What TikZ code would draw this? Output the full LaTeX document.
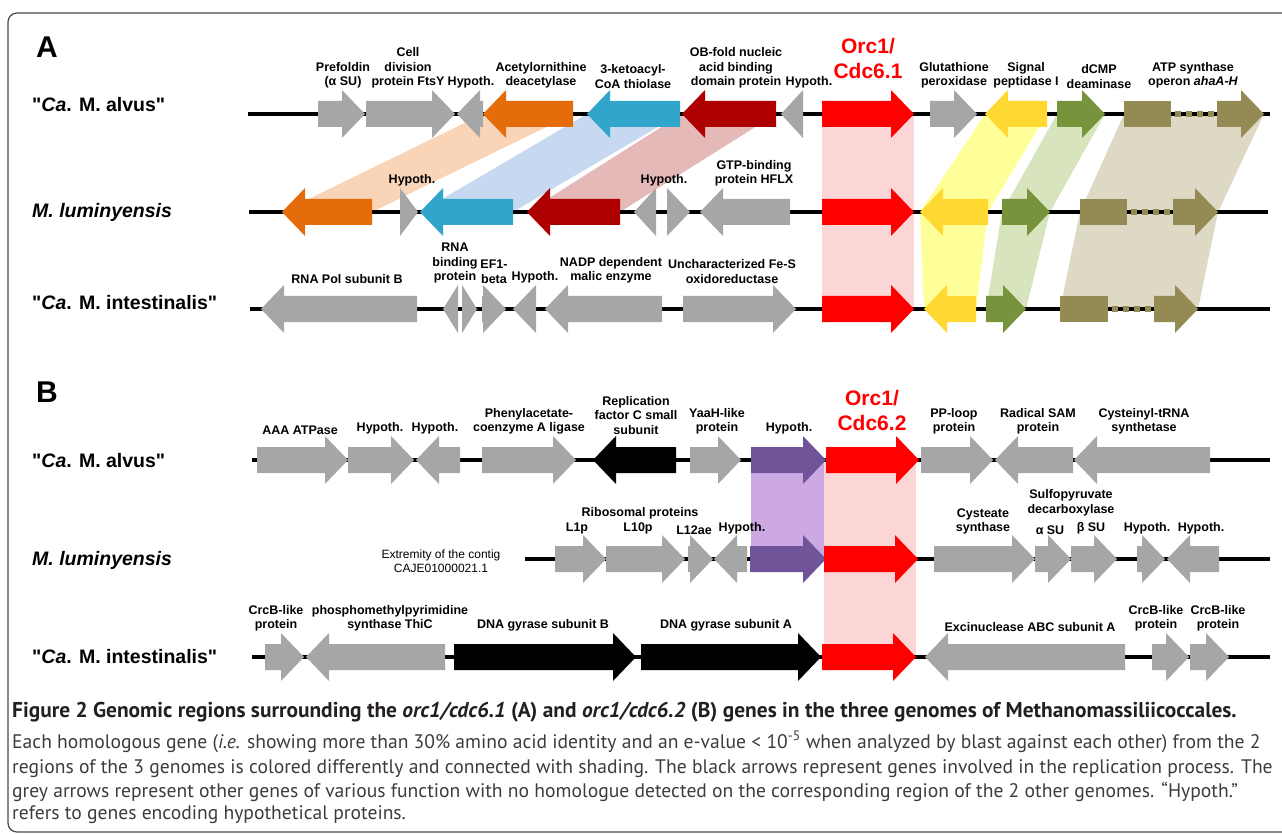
\documentclass[tikz,border=0pt]{standalone}
\usepackage{fontspec}
\setmainfont{Liberation Sans}
\newfontfamily\capfont{PT Sans}
\usepackage{xcolor}
% gene colours
\definecolor{geneGrey}{HTML}{A6A6A6}
\definecolor{geneOrange}{HTML}{E46C0A}
\definecolor{geneBlue}{HTML}{31A5CA}
\definecolor{geneDkRed}{HTML}{AE0000}
\definecolor{geneRed}{HTML}{FF0000}
\definecolor{geneYellow}{HTML}{FFD932}
\definecolor{geneGreen}{HTML}{77933C}
\definecolor{geneOlive}{HTML}{948A54}
\definecolor{genePurple}{HTML}{6F5499}
% shading colours
\definecolor{shOrange}{HTML}{FAD4B6}
\definecolor{shBlue}{HTML}{C6D9F0}
\definecolor{shDkRed}{HTML}{E5B9B7}
\definecolor{shRed}{HTML}{FCD5D6}
\definecolor{shYellow}{HTML}{FFFF99}
\definecolor{shGreen}{HTML}{D7E4BD}
\definecolor{shOlive}{HTML}{DDD9C4}
\definecolor{shPurple}{HTML}{CCA9E2}
\definecolor{frameGrey}{HTML}{4A4A4A}
\definecolor{capGrey}{HTML}{3C3C3C}
\definecolor{capDark}{HTML}{231F20}
\tikzset{
  chrom/.style={line width=3.5pt},
  genelab/.style={anchor=south,inner sep=0.5pt,align=center,
    font=\bfseries\fontsize{12.5}{14.5}\selectfont},
  species/.style={anchor=west,inner sep=0pt,
    font=\bfseries\fontsize{19.5}{22}\selectfont},
  panel/.style={inner sep=0pt,font=\bfseries\fontsize{30}{32}\selectfont},
  orclab/.style={anchor=south,inner sep=0pt,align=center,text=geneRed,
    font=\bfseries\fontsize{21}{25}\selectfont},
  operon/.style={line width=6pt,dash pattern=on 6pt off 5pt,geneOlive},
  capline/.style={anchor=base west,inner sep=0pt,text=capGrey,
    font=\capfont\fontsize{19.6}{22}\selectfont}
}
% gene arrow: tail x, tip x, row y, colour
\newcommand{\genearrow}[4]{%
  \pgfmathsetmacro\hb{#2-(#2-#1)/abs(#2-#1)*min(23,abs(#2-#1))}
  \fill[#4] (#1,#3-13) -- (\hb,#3-13) -- (\hb,#3-24) -- (#2,#3)
    -- (\hb,#3+24) -- (\hb,#3+13) -- (#1,#3+13) -- cycle;}

\begin{document}
\begin{tikzpicture}[x=1pt,y=-1pt]
  \useasboundingbox (0,0) rectangle (1282,834);
  \draw[frameGrey,line width=1.2pt,rounded corners=9pt] (8,832) rectangle (1300,13);
  \node[panel] (pA) at (47,47) {A};
  \node[panel] (pB) at (47,392) {B};

  % species names
  \node[species] (sA1) at (32,105) {\textquotedbl\textit{Ca}. M. alvus\textquotedbl};
  \node[species] (sA2) at (32,212) {\textit{M. luminyensis}};
  \node[species] (sA3) at (32,303) {\textquotedbl\textit{Ca}. M. intestinalis\textquotedbl};
  \node[species] (sB1) at (32,461) {\textquotedbl\textit{Ca}. M. alvus\textquotedbl};
  \node[species] (sB2) at (32,560) {\textit{M. luminyensis}};
  \node[species] (sB3) at (32,657) {\textquotedbl\textit{Ca}. M. intestinalis\textquotedbl};

  % homology shading, panel A
  \fill[shOrange] (483,114) -- (573,114) -- (372,212) -- (282,212) -- cycle;
  \fill[shBlue] (587,114) -- (680,114) -- (513,212) -- (420,212) -- cycle;
  \fill[shDkRed] (682,114) -- (776,114) -- (620,212) -- (527,212) -- cycle;
  \fill[shRed] (822,114) rectangle (914,309);
  \fill[shYellow] (985,114) -- (1047,114) -- (988,212) -- (976,309)
    -- (924,309) -- (920,212) -- cycle;
  \fill[shGreen] (1057,114) -- (1105,114) -- (1050,212) -- (1026,309)
    -- (986,309) -- (1002,212) -- cycle;
  \fill[shOlive] (1124,114) -- (1264,114) -- (1218,212) -- (1198,309)
    -- (1060,309) -- (1080,212) -- cycle;
  % panel B
  \fill[shPurple] (751,460) rectangle (826,559);
  \fill[shRed] (824,460) rectangle (916,657);

  % chromosomes
  \draw[chrom] (248,114) -- (1270,114);
  \draw[chrom] (249,212) -- (1268,212);
  \draw[chrom] (250,309) -- (1270,309);
  \draw[chrom] (252,460) -- (1270,460);
  \draw[chrom] (525,559) -- (1270,559);
  \draw[chrom] (252,657) -- (1270,657);

  % panel A genes
  \foreach \a/\b/\c in {318/365/geneGrey,366/455/geneGrey,483/457/geneGrey,
    573/483/geneOrange,680/587/geneBlue,776/682/geneDkRed,803/781/geneGrey,
    822/914/geneRed,930/977/geneGrey,1047/985/geneYellow,1057/1105/geneGreen,
    1217/1264/geneOlive}
    \genearrow{\a}{\b}{114}{\c};
  \fill[geneOlive] (1124,101) rectangle (1171,127);
  \draw[operon] (1175,114) -- (1214,114);
  \foreach \a/\b/\c in {372/282/geneOrange,400/418/geneGrey,513/420/geneBlue,
    620/527/geneDkRed,656/634/geneGrey,667/690/geneGrey,790/700/geneGrey,
    822/914/geneRed,988/920/geneYellow,1002/1050/geneGreen,1173/1218/geneOlive}
    \genearrow{\a}{\b}{212}{\c};
  \fill[geneOlive] (1080,199) rectangle (1127,225);
  \draw[operon] (1131,212) -- (1170,212);
  \foreach \a/\b/\c in {417/261/geneGrey,458/443/geneGrey,462/477/geneGrey,
    482/506/geneGrey,536/513/geneGrey,662/545/geneGrey,683/796/geneGrey,
    822/914/geneRed,976/924/geneYellow,986/1026/geneGreen,1154/1198/geneOlive}
    \genearrow{\a}{\b}{309}{\c};
  \fill[geneOlive] (1060,296) rectangle (1108,322);
  \draw[operon] (1112,309) -- (1151,309);

  % panel B genes
  \foreach \a/\b/\c in {257/348/geneGrey,348/414/geneGrey,460/416/geneGrey,
    482/576/geneGrey,676/593/black,690/741/geneGrey,751/826/genePurple,
    826/919/geneRed,921/993/geneGrey,1073/995/geneGrey,1210/1074/geneGrey}
    \genearrow{\a}{\b}{460}{\c};
  \foreach \a/\b/\c in {555/606/geneGrey,606/685/geneGrey,688/713/geneGrey,
    747/714/geneGrey,750/826/genePurple,824/918/geneRed,934/1035/geneGrey,
    1035/1071/geneGrey,1071/1117/geneGrey,1137/1165/geneGrey,1219/1167/geneGrey}
    \genearrow{\a}{\b}{559}{\c};
  \foreach \a/\b/\c in {265/304/geneGrey,445/306/geneGrey,454/636/black,
    641/821/black,822/916/geneRed,1125/925/geneGrey,1152/1189/geneGrey,
    1190/1229/geneGrey}
    \genearrow{\a}{\b}{657}{\c};

  % gene names, panel A
  \foreach \x/\t [count=\n] in {343/Prefoldin\\(α SU),408/Cell\\division\\protein FtsY,
    471/Hypoth.,541/Acetylornithine\\deacetylase,633/3-ketoacyl-\\CoA thiolase,
    736/OB-fold nucleic\\acid binding\\domain protein,809/Hypoth.,
    954/Glutathione\\peroxidase,1026/Signal\\peptidase I,1099/dCMP\\deaminase,
    1193/ATP synthase\\operon \textit{ahaA-H}}
    \node[genelab] (la1-\n) at (\x,89) {\t};
  \foreach \x/\t [count=\n] in {412/Hypoth.,664/Hypoth.,754/GTP-binding\\protein HFLX}
    \node[genelab] (la2-\n) at (\x,187) {\t};
  \foreach \x/\t [count=\n] in {347/RNA Pol subunit B,455/RNA\\binding\\protein,
    494/EF1-\\beta,535/Hypoth.,611/NADP dependent\\malic enzyme,
    732/Uncharacterized Fe-S\\oxidoreductase}
    \node[genelab] (la3-\n) at (\x,284) {\t};
  \node[orclab] (orcA) at (868,79) {Orc1/\\Cdc6.1};

  % gene names, panel B
  \foreach \x/\t [count=\n] in {300/AAA ATPase,380/Hypoth.,435/Hypoth.,
    529/Phenylacetate-\\coenzyme A ligase,636/Replication\\factor C small\\subunit,
    717/YaaH-like\\protein,789/Hypoth.,954/PP-loop\\protein,
    1038/Radical SAM\\protein,1144/Cysteinyl-tRNA\\synthetase}
    \node[genelab] (lb1-\n) at (\x,435) {\t};
  \foreach \x/\t [count=\n] in {577/L1p,638/L10p,694/L12ae,742/Hypoth.,
    983/Cysteate\\synthase,1050/α SU,1091/β SU,1147/Hypoth.,1201/Hypoth.}
    \node[genelab] (lb2-\n) at (\x,535) {\t};
  \node[genelab,anchor=center] (ribo) at (640,513) {Ribosomal proteins};
  \node[genelab,anchor=center] (sulfo) at (1071,503) {Sulfopyruvate\\decarboxylase};
  \node[align=center,font=\fontsize{12}{14.5}\selectfont] (contig) at (441,561)
    {Extremity of the contig\\CAJE01000021.1};
  \foreach \x/\t [count=\n] in {276/CrcB-like\\protein,
    390/phosphomethylpyrimidine\\synthase ThiC,543/DNA gyrase subunit B,
    726/DNA gyrase subunit A,1030/Excinuclease ABC subunit A,
    1156/CrcB-like\\protein,1218/CrcB-like\\protein}
    \node[genelab] (lb3-\n) at (\x,632) {\t};
  \node[orclab] (orcB) at (872,431) {Orc1/\\Cdc6.2};

  % caption
  \node[capline,text=capDark,font=\capfont\bfseries\fontsize{21.4}{24}\selectfont] (cap0)
    at (12,717) {Figure 2 Genomic regions surrounding the \textit{orc1/cdc6.1} (A) and
    \textit{orc1/cdc6.2} (B) genes in the three genomes of Methanomassiliicoccales.};
  \node[capline] (cap1) at (12,748) {Each homologous gene (\textit{i.e.} showing more
    than 30\% amino acid identity and an e-value < 10\textsuperscript{-5} when analyzed
    by blast against each other) from the 2};
  \node[capline] (cap2) at (12,773) {regions of the 3 genomes is colored differently and
    connected with shading. The black arrows represent genes involved in the
    replication process. The};
  \node[capline] (cap3) at (12,797) {grey arrows represent other genes of various
    function with no homologue detected on the corresponding region of the 2 other
    genomes. “Hypoth.”};
  \node[capline] (cap4) at (12,819) {refers to genes encoding hypothetical proteins.};
\end{tikzpicture}
\end{document}
